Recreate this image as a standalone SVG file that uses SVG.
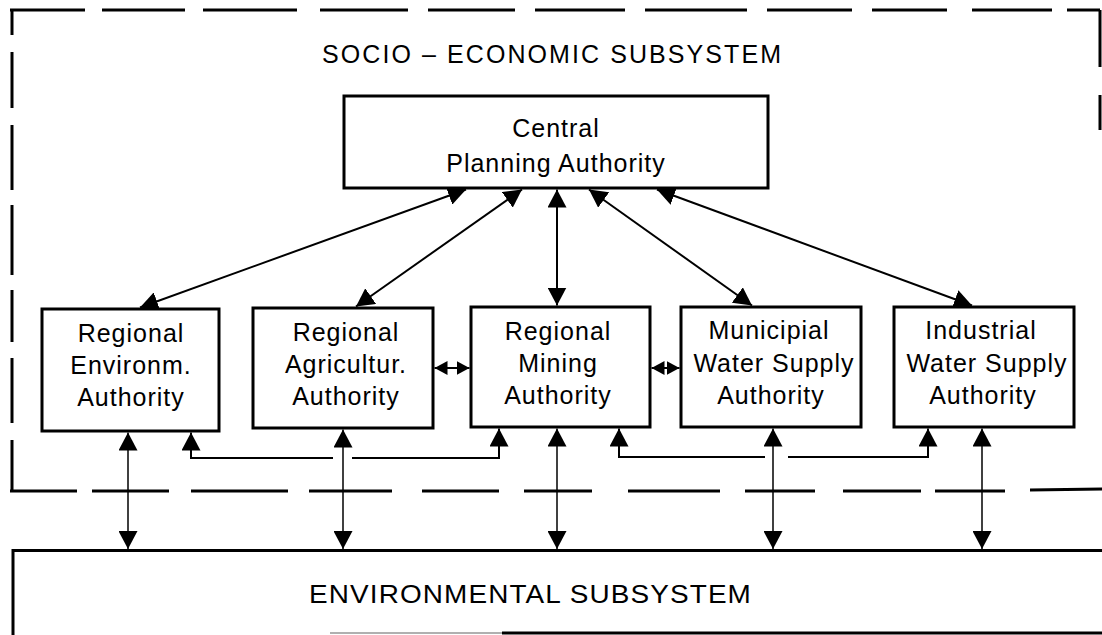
<svg xmlns="http://www.w3.org/2000/svg" width="1102" height="635" viewBox="0 0 1102 635">
  <style>
    .txt { font-family: "Liberation Sans", Arial, sans-serif; font-size: 25px; fill: #000; letter-spacing: 1px; }
    .box { fill: #fff; stroke: #000; stroke-width: 3; }
    .dash line { stroke: #000; stroke-width: 3; }
    .conn { fill: none; stroke: #000; stroke-width: 2; }
    .vert { fill: none; stroke: #000; stroke-width: 1.5; }
    .frame { fill: none; stroke: #000; stroke-width: 3; }
  </style>
  <defs>
    <marker id="ah" viewBox="0 0 18 19" refX="18" refY="9.5" markerWidth="18" markerHeight="19" markerUnits="userSpaceOnUse" orient="auto-start-reverse">
      <path d="M0,0 L18,9.5 L0,19 z" fill="#000"/>
    </marker>
    <marker id="ahs" viewBox="0 0 13 14" refX="13" refY="7" markerWidth="13" markerHeight="14" markerUnits="userSpaceOnUse" orient="auto-start-reverse">
      <path d="M0,0 L13,7 L0,14 z" fill="#000"/>
    </marker>
  </defs>
  <rect width="1102" height="635" fill="#fff"/>

  <!-- Socio-economic subsystem dashed boundary -->
  <g id="socio-economic-subsystem">
    <g class="dash">
      <line x1="10" y1="10" x2="85" y2="10"/>
      <line x1="102" y1="10" x2="185" y2="10"/>
      <line x1="203" y1="10" x2="297" y2="10"/>
      <line x1="320" y1="10" x2="408" y2="10"/>
      <line x1="428" y1="10" x2="515" y2="10"/>
      <line x1="535" y1="10" x2="625" y2="10"/>
      <line x1="645" y1="10" x2="747" y2="10"/>
      <line x1="767" y1="10" x2="852" y2="10"/>
      <line x1="872" y1="10" x2="947" y2="10"/>
      <line x1="972" y1="10" x2="1052" y2="10"/>
      <line x1="1067" y1="10" x2="1100" y2="10"/>
      <line x1="1100" y1="10" x2="1100" y2="67"/>
      <line x1="1100" y1="95" x2="1100" y2="130"/>
      <line x1="12" y1="10" x2="12" y2="35"/>
      <line x1="12" y1="52" x2="12" y2="108"/>
      <line x1="12" y1="125" x2="12" y2="190"/>
      <line x1="12" y1="205" x2="12" y2="275"/>
      <line x1="12" y1="290" x2="12" y2="342"/>
      <line x1="12" y1="358" x2="12" y2="423"/>
      <line x1="12" y1="440" x2="12" y2="491"/>
      <line x1="10" y1="491" x2="77" y2="491"/>
      <line x1="92" y1="491" x2="169" y2="491"/>
      <line x1="191" y1="491" x2="288" y2="491"/>
      <line x1="309" y1="491" x2="392" y2="491"/>
      <line x1="422" y1="491" x2="499" y2="491"/>
      <line x1="524" y1="491" x2="592" y2="491"/>
      <line x1="628" y1="491" x2="720" y2="491"/>
      <line x1="745" y1="491" x2="815" y2="491"/>
      <line x1="843" y1="491" x2="921" y2="491"/>
      <line x1="935" y1="491" x2="1005" y2="491"/>
      <line x1="1030" y1="490" x2="1102" y2="489"/>
    </g>
    <text class="txt" x="322" y="63" textLength="460" lengthAdjust="spacing">SOCIO – ECONOMIC SUBSYSTEM</text>
  </g>

  <!-- Environmental subsystem -->
  <g id="environmental-subsystem">
    <path class="frame" d="M13,635 V550.5 H1102"/>
    <line x1="330" y1="633" x2="502" y2="633" stroke="#b0b0b0" stroke-width="2"/>
    <line x1="502" y1="633" x2="1102" y2="633" stroke="#000" stroke-width="3"/>
    <text class="txt" x="309" y="603" textLength="443" lengthAdjust="spacingAndGlyphs">ENVIRONMENTAL SUBSYSTEM</text>
  </g>

  <!-- Connectors -->
  <g id="connectors">
    <line class="conn" x1="466" y1="189.5" x2="140" y2="307.5" marker-start="url(#ah)" marker-end="url(#ah)"/>
    <line class="conn" x1="522" y1="189.5" x2="356" y2="306.5" marker-start="url(#ah)" marker-end="url(#ah)"/>
    <line class="conn" x1="557" y1="189.5" x2="557" y2="305.5" marker-start="url(#ah)" marker-end="url(#ah)"/>
    <line class="conn" x1="589" y1="189.5" x2="752" y2="305.5" marker-start="url(#ah)" marker-end="url(#ah)"/>
    <line class="conn" x1="657" y1="189.5" x2="972" y2="305.5" marker-start="url(#ah)" marker-end="url(#ah)"/>

    <line class="conn" x1="434.5" y1="368" x2="469.5" y2="368" marker-start="url(#ahs)" marker-end="url(#ahs)"/>
    <line class="conn" x1="651.5" y1="368" x2="679.5" y2="368" marker-start="url(#ahs)" marker-end="url(#ahs)"/>

    <line class="vert" x1="128" y1="432.5" x2="128" y2="549" marker-start="url(#ah)" marker-end="url(#ah)"/>
    <line class="vert" x1="343" y1="429.5" x2="343" y2="549" marker-start="url(#ah)" marker-end="url(#ah)"/>
    <line class="vert" x1="557" y1="428.5" x2="557" y2="549" marker-start="url(#ah)" marker-end="url(#ah)"/>
    <line class="vert" x1="773" y1="428.5" x2="773" y2="549" marker-start="url(#ah)" marker-end="url(#ah)"/>
    <line class="vert" x1="982" y1="428.5" x2="982" y2="549" marker-start="url(#ah)" marker-end="url(#ah)"/>

    <path class="conn" d="M191,432.5 V458 H333 M352,458 H499 V428.5" marker-start="url(#ah)" marker-end="url(#ah)"/>
    <path class="conn" d="M619,428.5 V457 H765 M788,457 H928 V428.5" marker-start="url(#ah)" marker-end="url(#ah)"/>
  </g>

  <!-- Nodes -->
  <g id="central-planning-authority">
    <rect class="box" x="344" y="96" width="424" height="92"/>
    <text class="txt" text-anchor="middle" x="556" y="137">Central</text>
    <text class="txt" text-anchor="middle" x="556" y="172">Planning Authority</text>
  </g>
  <g id="regional-environm-authority">
    <rect class="box" x="42" y="309" width="177" height="122"/>
    <text class="txt" text-anchor="middle" x="131" y="342">Regional</text>
    <text class="txt" text-anchor="middle" x="131" y="374">Environm.</text>
    <text class="txt" text-anchor="middle" x="131" y="406">Authority</text>
  </g>
  <g id="regional-agricultur-authority">
    <rect class="box" x="253" y="308" width="180" height="120"/>
    <text class="txt" text-anchor="middle" x="346" y="341">Regional</text>
    <text class="txt" text-anchor="middle" x="346" y="373">Agricultur.</text>
    <text class="txt" text-anchor="middle" x="346" y="405">Authority</text>
  </g>
  <g id="regional-mining-authority">
    <rect class="box" x="471" y="307" width="179" height="120"/>
    <text class="txt" text-anchor="middle" x="558" y="340">Regional</text>
    <text class="txt" text-anchor="middle" x="558" y="372">Mining</text>
    <text class="txt" text-anchor="middle" x="558" y="404">Authority</text>
  </g>
  <g id="municipial-water-supply-authority">
    <rect class="box" x="681" y="307" width="180" height="120"/>
    <text class="txt" text-anchor="middle" x="769" y="339">Municipial</text>
    <text class="txt" text-anchor="middle" x="774" y="372">Water Supply</text>
    <text class="txt" text-anchor="middle" x="771" y="404">Authority</text>
  </g>
  <g id="industrial-water-supply-authority">
    <rect class="box" x="894" y="307" width="180" height="120"/>
    <text class="txt" text-anchor="middle" x="981" y="339">Industrial</text>
    <text class="txt" text-anchor="middle" x="987" y="372">Water Supply</text>
    <text class="txt" text-anchor="middle" x="983" y="404">Authority</text>
  </g>
</svg>
